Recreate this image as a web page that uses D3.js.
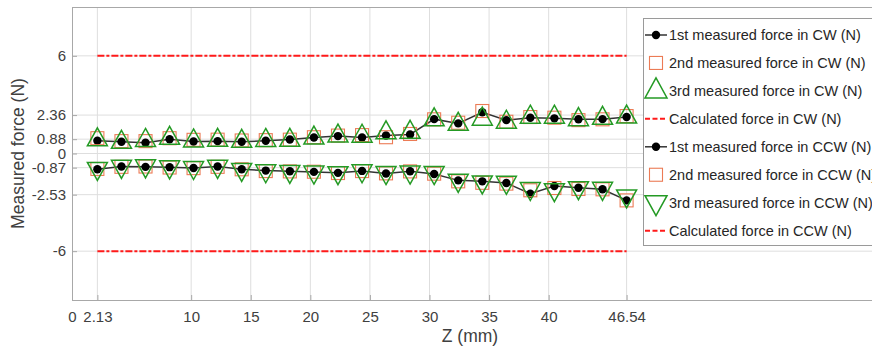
<!DOCTYPE html>
<html>
<head>
<meta charset="utf-8">
<script src="https://cdn.jsdelivr.net/npm/d3@7"></script>
<style>
  body { margin: 0; background: #fff; }
  svg { display: block; font-family: "Liberation Sans", Arial, sans-serif; }
</style>
</head>
<body>
<div id="chart"></div>
<script>
// Z positions (mm)
const zValues = [2.13, 4.15, 6.17, 8.19, 10.20, 12.22, 14.24, 16.26, 18.28, 20.30, 22.32, 24.34,
  26.35, 28.37, 30.39, 32.41, 34.43, 36.45, 38.46, 40.48, 42.50, 44.52, 46.54];

// CW measurements (N)
const cw1 = [0.78, 0.72, 0.66, 0.88, 0.74, 0.76, 0.72, 0.78, 0.86, 0.98, 1.07, 0.98,
  1.11, 1.17, 2.11, 1.85, 2.53, 2.05, 2.20, 2.16, 2.10, 2.11, 2.24];
const cw2 = [0.94, 0.76, 0.76, 0.94, 0.84, 0.85, 0.80, 0.82, 0.85, 1.00, 1.10, 1.13,
  1.00, 1.20, 2.10, 1.89, 2.61, 1.95, 2.24, 2.20, 2.05, 2.10, 2.30];
const cw3 = [0.84, 0.69, 0.80, 0.93, 0.77, 0.81, 0.75, 0.80, 0.81, 0.95, 1.07, 1.06,
  1.27, 1.30, 2.07, 1.79, 2.11, 1.92, 2.23, 2.23, 2.08, 2.16, 2.24];

// CCW measurements (N)
const ccw1 = [-0.97, -0.80, -0.82, -0.84, -0.89, -0.80, -0.97, -1.05, -1.09, -1.13, -1.19, -1.07,
  -1.23, -1.09, -1.26, -1.65, -1.71, -1.81, -2.47, -2.00, -2.10, -2.20, -2.88];
const ccw2 = [-0.95, -0.82, -0.80, -0.86, -0.90, -0.82, -0.97, -1.08, -1.10, -1.12, -1.20, -1.08,
  -1.22, -1.10, -1.24, -1.71, -1.80, -1.85, -2.26, -2.12, -2.18, -2.20, -2.88];
const ccw3 = [-0.92, -0.79, -0.76, -0.82, -0.86, -0.79, -0.98, -1.06, -1.10, -1.14, -1.18, -1.06,
  -1.17, -1.14, -1.17, -1.65, -1.75, -1.77, -2.15, -2.22, -2.10, -2.14, -2.61];

// calculated forces (N), drawn from first to last Z
const calcCW = 6;
const calcCCW = -6;

const xTicks = [0, 2.13, 10, 15, 20, 25, 30, 35, 40, 46.54];
const yTicks = [-6, -2.53, -0.87, 0, 0.88, 2.36, 6];

const legendLabels = [
  "1st measured force in CW (N)", "2nd measured force in CW (N)", "3rd measured force in CW (N)",
  "Calculated force in CW (N)", "1st measured force in CCW (N)", "2nd measured force in CCW (N)",
  "3rd measured force in CCW (N)", "Calculated force in CCW (N)"
];
const legendKinds = ["dot", "square", "up", "calc", "dot", "square", "down", "calc"];

/* SIZES AND COLOURS */
const width = 872;
const height = 349;
const plotLeft = 72, plotTop = 7, plotBottom = 300, plotRight = 874;
const squareColor = "#ec7b55";
const triColor = "#249a24";
const calcColor = "#ff1a1a";
const axisColor = "#a8a8a8";
const gridColor = "#dedede";
const textColor = "#404040";

const x = d3.scaleLinear().domain([0, 46.54]).range([plotLeft, 626.6]);
const y = d3.scaleLinear().domain([-9, 9]).range([plotBottom, plotTop]);

const svg = d3.select("#chart")
  .append("svg")
  .attr("width", width)
  .attr("height", height);

// grid lines
svg.append("g")
  .selectAll("line")
  .data(xTicks.filter(d => d > 0))
  .enter()
  .append("line")
    .attr("x1", d => x(d)).attr("x2", d => x(d))
    .attr("y1", plotTop).attr("y2", plotBottom)
    .attr("stroke", gridColor);

svg.append("g")
  .selectAll("line")
  .data(yTicks)
  .enter()
  .append("line")
    .attr("x1", plotLeft).attr("x2", plotRight)
    .attr("y1", d => y(d)).attr("y2", d => y(d))
    .attr("stroke", gridColor);

// frame top line
svg.append("line")
  .attr("x1", plotLeft).attr("x2", plotRight)
  .attr("y1", plotTop + 0.5).attr("y2", plotTop + 0.5)
  .attr("stroke", axisColor);

// axes
const xAxis = svg.append("g")
  .attr("transform", "translate(0," + plotBottom + ")")
  .call(d3.axisBottom(x).tickValues(xTicks).tickSize(-5).tickPadding(11)
    .tickFormat(d => String(d)));
xAxis.select(".domain").attr("stroke", axisColor).attr("d", "M" + plotLeft + ",0.5H" + plotRight);

const yAxis = svg.append("g")
  .attr("transform", "translate(" + plotLeft + ",0)")
  .call(d3.axisLeft(y).tickValues(yTicks).tickSize(-5).tickPadding(6)
    .tickFormat(d => String(d)));
yAxis.select(".domain").attr("stroke", axisColor).attr("d", "M0.5," + plotTop + "V" + plotBottom);

svg.selectAll(".tick line").attr("stroke", axisColor);
svg.selectAll(".tick text")
  .attr("fill", textColor)
  .style("font-size", "15px")
  .style("font-family", "'Liberation Sans', Arial, sans-serif");

// axis titles
svg.append("text")
  .attr("x", (plotLeft + 868) / 2)
  .attr("y", 342)
  .attr("text-anchor", "middle")
  .attr("fill", textColor)
  .style("font-size", "17.5px")
  .text("Z (mm)");

svg.append("text")
  .attr("transform", "translate(24," + y(0) + ") rotate(-90)")
  .attr("text-anchor", "middle")
  .attr("fill", textColor)
  .style("font-size", "17.5px")
  .text("Measured force (N)");

/* MARKERS */
const upTri = "M0,-12L10,6L-10,6Z";
const downTri = "M0,12L10,-6L-10,-6Z";

function toPoints(vals) {
  return vals.map((v, i) => ({ z: zValues[i], v: v }));
}

function drawSeries(p1, p2, p3, triPath) {
  const line = d3.line().x(d => x(d.z)).y(d => y(d.v));
  svg.append("path")
    .datum(toPoints(p1))
    .attr("d", line)
    .attr("fill", "none")
    .attr("stroke", "#333")
    .attr("stroke-width", 1.5);
  svg.append("g").selectAll("circle")
    .data(toPoints(p1))
    .enter()
    .append("circle")
      .attr("cx", d => x(d.z))
      .attr("cy", d => y(d.v))
      .attr("r", 4.2)
      .attr("fill", "#000");
  svg.append("g").selectAll("rect")
    .data(toPoints(p2))
    .enter()
    .append("rect")
      .attr("x", d => x(d.z) - 6.5)
      .attr("y", d => y(d.v) - 6.5)
      .attr("width", 13)
      .attr("height", 13)
      .attr("fill", "none")
      .attr("stroke", squareColor)
      .attr("stroke-width", 1.1);
  svg.append("g").selectAll("path")
    .data(toPoints(p3))
    .enter()
    .append("path")
      .attr("transform", d => "translate(" + x(d.z) + "," + y(d.v) + ")")
      .attr("d", triPath)
      .attr("fill", "none")
      .attr("stroke", triColor)
      .attr("stroke-width", 1.5);
}

function drawCalc(v) {
  svg.append("line")
    .attr("x1", x(zValues[0])).attr("x2", x(zValues[zValues.length - 1]))
    .attr("y1", y(v)).attr("y2", y(v))
    .attr("stroke", calcColor)
    .attr("stroke-width", 2)
    .attr("stroke-dasharray", "7,2,3,2");
}

drawSeries(cw1, cw2, cw3, upTri);
drawCalc(calcCW);
drawSeries(ccw1, ccw2, ccw3, downTri);
drawCalc(calcCCW);

/* LEGEND */
const legend = svg.append("g");
legend.append("rect")
  .attr("x", 643.5).attr("y", 18.5)
  .attr("width", 240).attr("height", 227)
  .attr("fill", "#fff")
  .attr("stroke", "#9a9a9a");

const rows = legend.selectAll("g")
  .data(legendLabels)
  .enter()
  .append("g")
    .attr("transform", (d, i) => "translate(656," + (35 + i * 27.95) + ")");

rows.each(function(d, i) {
  const g = d3.select(this);
  const kind = legendKinds[i];
  if (kind === "dot") {
    g.append("line").attr("x1", -11).attr("x2", 11).attr("stroke", "#333").attr("stroke-width", 1.5);
    g.append("circle").attr("r", 4.2).attr("fill", "#000");
  } else if (kind === "square") {
    g.append("rect").attr("x", -6.5).attr("y", -6.5).attr("width", 13).attr("height", 13)
      .attr("fill", "none").attr("stroke", squareColor).attr("stroke-width", 1.1);
  } else if (kind === "up") {
    g.append("path").attr("d", "M0,-13L11,7L-11,7Z")
      .attr("fill", "none").attr("stroke", triColor).attr("stroke-width", 1.5);
  } else if (kind === "down") {
    g.append("path").attr("d", "M0,13L11,-7L-11,-7Z")
      .attr("fill", "none").attr("stroke", triColor).attr("stroke-width", 1.5);
  } else {
    g.append("line").attr("x1", -11).attr("x2", 11).attr("stroke", calcColor)
      .attr("stroke-width", 2).attr("stroke-dasharray", "5,2.5");
  }
  g.append("text")
    .attr("x", 13)
    .attr("y", 5)
    .attr("fill", "#262626")
    .style("font-size", "14.5px")
    .text(d);
});
</script>
</body>
</html>
